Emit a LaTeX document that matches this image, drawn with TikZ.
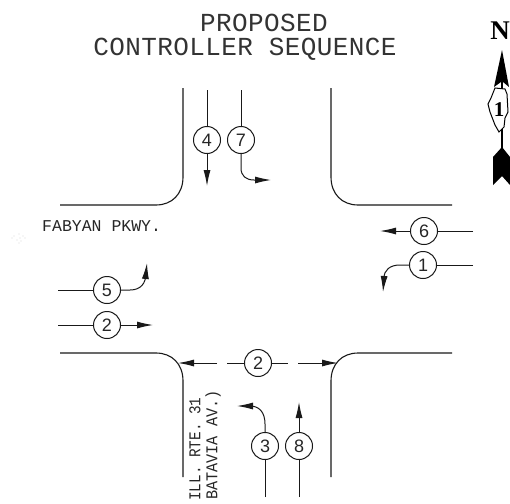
\documentclass[tikz,border=0pt]{standalone}
\usepackage{fontspec}
\setmainfont{Liberation Sans}
\newfontfamily\titlefont[LetterSpace=1.5]{Liberation Mono}
\newfontfamily\labelfont{Liberation Mono}
\newfontfamily\northfont{Liberation Serif}
\usetikzlibrary{arrows.meta}
\tikzset{
  curb/.style={line width=1.1pt,black!90},
  mover/.style={line width=1pt,black!90},
  movearrow/.style={mover,-{Latex[length=16pt,width=7pt]}},
  phase/.style={circle,draw=black!90,line width=1pt,minimum size=27pt,inner sep=0pt,font=\fontsize{18}{18}\selectfont,text=black!85},
  titletext/.style={font=\titlefont\fontsize{26}{26}\selectfont,text=black!80,inner sep=0pt},
  streettext/.style={font=\labelfont\fontsize{16.5}{16.5}\selectfont,text=black!85,inner sep=0pt}
}
\begin{document}
\begin{tikzpicture}[x=1pt,y=-1pt]
\useasboundingbox (0,0) rectangle (510,503);
% title
\node[titletext] (t1) at (264,23) {PROPOSED};
\node[titletext] (t2) at (245,49) {CONTROLLER SEQUENCE};
% curbs
\draw[curb] (183,88) -- (183,177) .. controls (183,194) and (172,205) .. (156,205) -- (60,205);
\draw[curb] (331,88) -- (331,177) .. controls (331,194) and (342,205) .. (358,205) -- (452,205);
\draw[curb] (60,353) -- (156,353) .. controls (172,353) and (183,364) .. (183,381) -- (183,477);
\draw[curb] (452,353) -- (358,353) .. controls (342,353) and (331,364) .. (331,381) -- (331,477);
% phase circles
\node[phase] (p4) at (207,140) {4};
\node[phase] (p7) at (241,140) {7};
\node[phase] (p5) at (107,290) {5};
\node[phase] (p2w) at (107,325) {2};
\node[phase] (p6) at (424,231) {6};
\node[phase] (p1) at (423,265) {1};
\node[phase] (p2s) at (258,363) {2};
\node[phase] (p3) at (265,446) {3};
\node[phase] (p8) at (299,446) {8};
% free ends
\coordinate (a4) at (207,90);
\coordinate (b4) at (207,186);
\coordinate (a7) at (241,90);
\coordinate (a5) at (58,290);
\coordinate (a2) at (58,325);
\coordinate (b2) at (153,325);
\coordinate (a6) at (473,231);
\coordinate (b6) at (380,231);
\coordinate (a1) at (473,265);
\coordinate (a3) at (265,497);
\coordinate (a8) at (299,497);
\coordinate (b8) at (299,402);
\coordinate (sl) at (178,363);
\coordinate (sla) at (217,363);
\coordinate (slb) at (227,363);
\coordinate (sr) at (338,363);
\coordinate (sra) at (298,363);
\coordinate (srb) at (288,363);
% movements
\draw[mover] (a4) -- (p4);
\draw[movearrow] (p4) -- (b4);
\draw[mover] (a7) -- (p7);
\draw[movearrow] (p7.south) -- (241,168) .. controls (241,176) and (246,180) .. (254,180) -- (271,180);
\draw[mover] (a5) -- (p5);
\draw[movearrow] (p5.east) -- (130,290) .. controls (141,290) and (146,283) .. (146,273) -- (147,263);
\draw[mover] (a2) -- (p2w);
\draw[movearrow] (p2w) -- (b2);
\draw[mover] (a6) -- (p6);
\draw[movearrow] (p6) -- (b6);
\draw[mover] (a1) -- (p1);
\draw[movearrow] (p1.west) -- (400,265) .. controls (390,265) and (384,270) .. (384,278) -- (383,292);
\draw[movearrow] (sla) -- (sl);
\draw[mover] (slb) -- (p2s);
\draw[mover] (p2s) -- (srb);
\draw[movearrow] (sra) -- (sr);
\draw[mover] (a3) -- (p3);
\draw[movearrow] (p3.north) -- (265,424) .. controls (265,412) and (259,406) .. (250,406) -- (237,406);
\draw[mover] (a8) -- (p8);
\draw[movearrow] (p8) -- (b8);
% street names
\node[streettext,anchor=west] (fab) at (42,226) {\scalebox{1.0}[1]{FABYAN PKWY.}};
\node[streettext,rotate=90,anchor=west] (ill) at (195,501) {\scalebox{0.87}[1]{ILL. RTE. 31}};
\node[streettext,rotate=90,anchor=west] (bat) at (213,500) {\scalebox{0.92}[1]{BATAVIA AV.)}};
% north arrow
\node[font=\northfont\bfseries\fontsize{27}{27}\selectfont,inner sep=0pt] (north) at (500,31) {N};
\fill[black] (502,50) -- (509,87) -- (503,82) -- (501,82) -- (494,87) -- cycle;
\draw[line width=1.2pt] (502,82) -- (502,150);
\draw[fill=white,line width=1pt] (495,88) -- (505,89) -- (507,94) -- (508,112) -- (505,118) -- (504,127) -- (499,132) -- (495,125) -- (490,112) -- (488,104) -- (491,98) -- cycle;
\node[font=\northfont\bfseries\fontsize{21}{21}\selectfont,inner sep=0pt] (shield) at (499,110) {1};
\fill[black] (502,147) -- (510,157) -- (510,185) -- (502,176) -- (493,185) -- (493,157) -- cycle;
% speckle
\foreach \x/\y in {12/238,14/236,17/240,19/234,20/238,21/241,23/236,25/238,19/243}
  \fill[black!45] (\x,\y) circle (0.4pt);
\end{tikzpicture}
\end{document}
